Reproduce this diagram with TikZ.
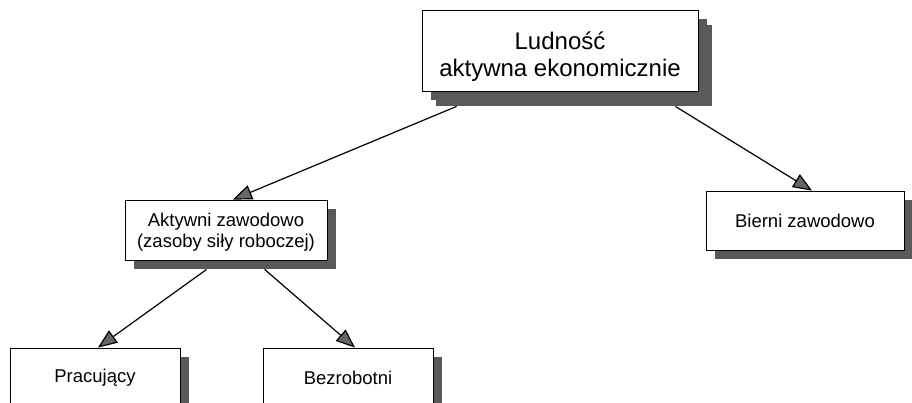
\documentclass[tikz,border=0pt]{standalone}
\usepackage{fontspec}
\setmainfont{Liberation Sans}
\usepackage{tikz}
\usetikzlibrary{shadows}
\usetikzlibrary{arrows.meta}

\begin{document}
\begin{tikzpicture}[x=1pt, y=-1pt,
    box/.style={draw=black, line width=0.8pt, fill=white, align=center, inner sep=0pt,
        font=\fontsize{18.5}{21}\selectfont,
        drop shadow={shadow xshift=9pt, shadow yshift=-9pt, fill=black!65, opacity=1}},
    arr/.style={line width=1.2pt, -{Triangle[length=19pt, width=15pt, fill=black!60]}}]
                \useasboundingbox (0,0) rectangle (912,403);

                % Top box
                \node[box, minimum width=276pt, minimum height=81pt, font=\fontsize{24}{27}\selectfont,
                    drop shadow={shadow xshift=14pt, shadow yshift=-15pt, fill=black!65, opacity=1}]
                    (ludnosc) at (560, 50.5) {\rule{0pt}{30pt}Ludność\\aktywna ekonomicznie};

                % Second row
                \node[box, minimum width=202pt, minimum height=60pt] (aktywni) at (226, 230)
                    {\rule{0pt}{17pt}Aktywni zawodowo\\(zasoby siły roboczej)};
                \node[box, minimum width=198pt, minimum height=59pt] (bierni) at (805, 220.5)
                    {Bierni zawodowo};

                % Bottom row
                \node[box, minimum width=170pt, minimum height=59pt] (pracujacy) at (95, 377.5) {Pracujący};
                \node[box, minimum width=170pt, minimum height=59pt] (bezrobotni) at (348, 377.5) {Bezrobotni};

                % Arrows
                \draw[arr] ([shift={(35,15)}]ludnosc.south west) -- ([xshift=7pt]aktywni.north);
                \draw[arr] ([shift={(-23,15)}]ludnosc.south east) -- ([xshift=7pt]bierni.north);
                \draw[arr] ([shift={(82,9)}]aktywni.south west) -- ([xshift=3pt]pracujacy.north);
                \draw[arr] ([shift={(140,9)}]aktywni.south west) -- ([xshift=7pt]bezrobotni.north);
\end{tikzpicture}
\end{document}
